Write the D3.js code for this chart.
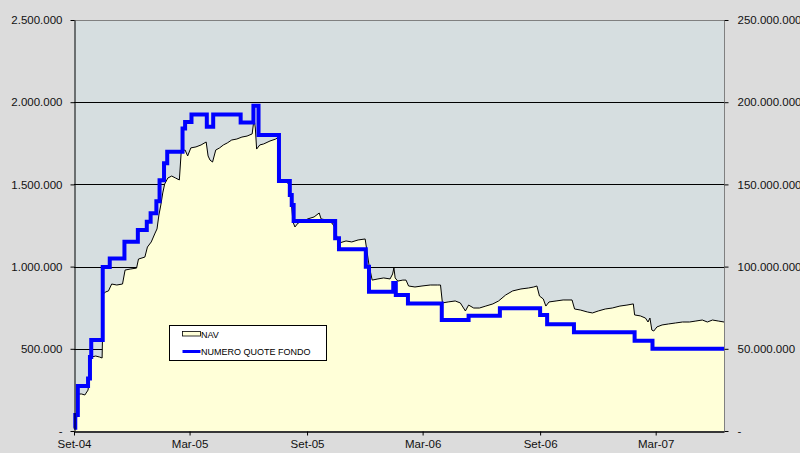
<!DOCTYPE html>
<html>
<head>
<meta charset="utf-8">
<script src="https://cdn.jsdelivr.net/npm/d3@7"></script>
<style>
  body { margin: 0; background: #dcdcdc; }
  svg { display: block; font-family: "Liberation Sans", Arial, sans-serif; }
  .axis text { font-size: 11.5px; fill: #111; }
</style>
</head>
<body>
<div id="chart"></div>
<script>
// NAV (left axis)
var navDates = ["2004-09-01","2004-09-03","2004-09-05","2004-09-07","2004-09-13","2004-09-18","2004-09-23","2004-09-26","2004-09-28",
  "2004-10-05","2004-10-11","2004-10-15","2004-10-17","2004-10-20","2004-10-25","2004-10-30","2004-11-07","2004-11-16","2004-11-20",
  "2004-11-28","2004-12-08","2004-12-11","2004-12-21","2004-12-25","2004-12-31","2005-01-06","2005-01-09","2005-01-12","2005-01-15",
  "2005-01-18","2005-01-21","2005-01-26","2005-02-01","2005-02-07","2005-02-13","2005-02-16","2005-02-22","2005-02-26","2005-03-03",
  "2005-03-11","2005-03-19","2005-03-27","2005-03-30","2005-04-02","2005-04-06","2005-04-11","2005-04-17","2005-04-23","2005-04-29",
  "2005-05-06","2005-05-14","2005-05-22","2005-05-30","2005-06-07","2005-06-10","2005-06-12","2005-06-14","2005-06-19","2005-06-25",
  "2005-07-05","2005-07-14","2005-07-18","2005-07-21","2005-07-29","2005-08-04","2005-08-07","2005-08-10","2005-08-13","2005-08-18",
  "2005-08-26","2005-09-02","2005-09-12","2005-09-20","2005-09-23","2005-10-02","2005-10-10","2005-10-15","2005-10-18","2005-10-22",
  "2005-11-01","2005-11-10","2005-11-20","2005-12-01","2005-12-04","2005-12-07","2005-12-12","2005-12-21","2005-12-30","2006-01-09",
  "2006-01-13","2006-01-15","2006-01-17","2006-01-21","2006-01-29","2006-02-03","2006-02-07","2006-02-17","2006-02-28","2006-03-13",
  "2006-03-24","2006-03-29","2006-04-01","2006-04-10","2006-04-21","2006-04-29","2006-05-07","2006-05-12","2006-05-20","2006-05-29",
  "2006-06-08","2006-06-19","2006-06-28","2006-07-09","2006-07-20","2006-08-02","2006-08-14","2006-08-22","2006-08-27","2006-08-31",
  "2006-09-06","2006-09-10","2006-09-15","2006-09-26","2006-10-07","2006-10-21","2006-10-25","2006-11-03","2006-11-14","2006-11-22",
  "2006-12-01","2006-12-12","2006-12-23","2007-01-04","2007-01-15","2007-01-25","2007-01-27","2007-02-05","2007-02-13","2007-02-17",
  "2007-02-20","2007-02-23","2007-02-26","2007-03-03","2007-03-11","2007-03-21","2007-04-01","2007-04-12","2007-04-23","2007-05-03",
  "2007-05-13","2007-05-21","2007-05-29","2007-06-07","2007-06-16"];
var navValues = [15000,43000,79000,225000,225000,219000,249000,359000,450000,
  456000,450000,444000,833000,845000,852000,894000,888000,894000,979000,
  985000,991000,1046000,1058000,1119000,1150000,1204000,1229000,1314000,1375000,
  1448000,1502000,1539000,1551000,1539000,1527000,1703000,1709000,1673000,1722000,
  1728000,1740000,1758000,1673000,1648000,1636000,1709000,1722000,1740000,1752000,
  1770000,1776000,1788000,1794000,1807000,1898000,1843000,1715000,1740000,1746000,
  1764000,1776000,1788000,1521000,1515000,1503000,1405000,1271000,1241000,1265000,
  1277000,1290000,1302000,1326000,1290000,1283000,1265000,1235000,1174000,1144000,
  1156000,1150000,1162000,1168000,1089000,1010000,918000,925000,931000,925000,
  955000,992000,931000,912000,918000,918000,882000,876000,882000,888000,
  888000,888000,779000,785000,791000,779000,730000,766000,748000,748000,
  760000,773000,791000,827000,852000,864000,870000,876000,882000,821000,
  803000,760000,785000,791000,797000,797000,742000,736000,724000,718000,
  730000,742000,748000,760000,766000,773000,706000,700000,687000,663000,
  687000,614000,608000,633000,645000,651000,657000,663000,663000,669000,
  675000,663000,675000,669000,663000];

// NUMERO QUOTE FONDO (right axis), step changes
var quoteDates = ["2004-09-01","2004-09-03","2004-09-07","2004-09-23","2004-09-26","2004-09-28","2004-10-16","2004-10-27","2004-11-19",
  "2004-12-10","2004-12-24","2004-12-30","2005-01-08","2005-01-13","2005-01-20","2005-01-25","2005-02-18","2005-02-22","2005-03-04",
  "2005-03-28","2005-04-07","2005-05-20","2005-06-09","2005-06-17","2005-07-19","2005-08-05","2005-08-08","2005-08-11","2005-10-15",
  "2005-10-21","2005-12-02","2005-12-07","2006-01-14","2006-01-18","2006-02-06","2006-03-31","2006-05-12","2006-06-30","2006-09-01",
  "2006-09-12","2006-10-24","2007-01-27","2007-02-24","2007-06-16"];
var quoteValues = [2000000,9700000,27400000,32000000,45000000,55300000,99800000,105000000,115100000,
  122200000,127300000,132400000,139800000,152600000,162800000,169800000,184000000,188000000,192500000,
  185000000,192500000,187700000,197800000,180000000,152000000,143500000,137400000,127700000,117200000,
  110500000,99900000,84700000,90000000,82700000,77600000,67500000,70100000,74600000,70500000,
  64900000,60000000,54900000,50000000,50000000];

var leftTicks = [0, 500000, 1000000, 1500000, 2000000, 2500000];
var rightTicks = [0, 50000000, 100000000, 150000000, 200000000, 250000000];
var xTickDates = ["2004-09-01","2005-03-01","2005-09-01","2006-03-01","2006-09-01","2007-03-01"];
var xTickLabels = ["Set-04","Mar-05","Set-05","Mar-06","Set-06","Mar-07"];
var xStart = "2004-09-01", xEnd = "2007-06-16";

var W = 800, H = 453;
var margin = {top: 20, right: 76, bottom: 22, left: 74};
var parse = d3.utcParse("%Y-%m-%d");

var nav = navDates.map(function(d, i) { return {date: parse(d), v: navValues[i]}; });
var quote = quoteDates.map(function(d, i) { return {date: parse(d), v: quoteValues[i]}; });

var x = d3.scaleUtc().domain([parse(xStart), parse(xEnd)]).range([margin.left, W - margin.right]);
var y = d3.scaleLinear().domain([0, 2500000]).range([H - margin.bottom, margin.top]);
var yR = d3.scaleLinear().domain([0, 250000000]).range([H - margin.bottom, margin.top]);

var it = d3.formatLocale({decimal: ",", thousands: ".", grouping: [3], currency: ["", ""]});
var fmt = function(v) { return v === 0 ? "-" : it.format(",")(v); };

var svg = d3.select("#chart").append("svg").attr("width", W).attr("height", H);
svg.append("rect").attr("width", W).attr("height", H).attr("fill", "#dcdcdc");

// plot background
svg.append("rect")
  .attr("x", x.range()[0]).attr("y", y(2500000))
  .attr("width", x.range()[1] - x.range()[0]).attr("height", y(0) - y(2500000))
  .attr("fill", "#d6dee0");

// gridlines
svg.append("g").selectAll("line")
  .data(leftTicks.filter(function(t) { return t > 0 && t < 2500000; }))
  .enter().append("line")
  .attr("x1", x.range()[0]).attr("x2", x.range()[1])
  .attr("y1", function(d) { return Math.round(y(d)) + 0.5; })
  .attr("y2", function(d) { return Math.round(y(d)) + 0.5; })
  .attr("stroke", "#000").attr("stroke-width", 1);

// NAV area + line
svg.append("path").datum(nav)
  .attr("fill", "#ffffd8")
  .attr("d", d3.area().x(function(d) { return x(d.date); }).y0(y(0)).y1(function(d) { return y(d.v); }));
svg.append("path").datum(nav)
  .attr("fill", "none").attr("stroke", "#000").attr("stroke-width", 1)
  .attr("d", d3.line().x(function(d) { return x(d.date); }).y(function(d) { return y(d.v); }));

// plot border top/right
svg.append("path")
  .attr("d", "M" + x.range()[0] + "," + (y(2500000) + 0.5) + "H" + (x.range()[1] + 0.5) + "V" + y(0))
  .attr("fill", "none").attr("stroke", "#808080");

// quote step line
svg.append("path").datum(quote)
  .attr("fill", "none").attr("stroke", "#0000ff").attr("stroke-width", 4)
  .attr("d", d3.line().curve(d3.curveStepAfter).x(function(d) { return x(d.date); }).y(function(d) { return yR(d.v); }));

// axes
var gl = svg.append("g").attr("class", "axis")
  .attr("transform", "translate(" + (margin.left + 0.5) + ",0)")
  .call(d3.axisLeft(y).tickValues(leftTicks).tickFormat(fmt).tickSize(4).tickSizeOuter(0).tickPadding(8));
gl.select(".domain").attr("stroke", "#000");

var gr = svg.append("g").attr("class", "axis")
  .attr("transform", "translate(" + (W - margin.right + 0.5) + ",0)")
  .call(d3.axisRight(yR).tickValues(rightTicks).tickFormat(fmt).tickSize(4).tickSizeOuter(0).tickPadding(9));
gr.select(".domain").remove();
gr.selectAll(".tick line").attr("stroke", "#000");

var gb = svg.append("g").attr("class", "axis")
  .attr("transform", "translate(0," + (y(0) + 0.5) + ")")
  .call(d3.axisBottom(x).tickValues(xTickDates.map(parse))
    .tickFormat(function(d, i) { return xTickLabels[i]; }).tickSize(4).tickSizeOuter(0).tickPadding(4));
gb.select(".domain").attr("stroke", "#000").attr("stroke-width", 1.5);

// legend
var lg = svg.append("g").attr("transform", "translate(169.5,325.5)");
lg.append("rect").attr("width", 157).attr("height", 35).attr("fill", "#fff").attr("stroke", "#000");
lg.append("rect").attr("x", 13).attr("y", 6).attr("width", 18).attr("height", 4.5)
  .attr("fill", "#ffffd8").attr("stroke", "#000").attr("stroke-width", 0.8);
lg.append("text").attr("x", 31.5).attr("y", 12).attr("font-size", 9).text("NAV");
lg.append("line").attr("x1", 13).attr("x2", 31).attr("y1", 26).attr("y2", 26)
  .attr("stroke", "#0000ff").attr("stroke-width", 3);
lg.append("text").attr("x", 31.5).attr("y", 29.5).attr("font-size", 9).text("NUMERO QUOTE FONDO");
</script>
</body>
</html>
